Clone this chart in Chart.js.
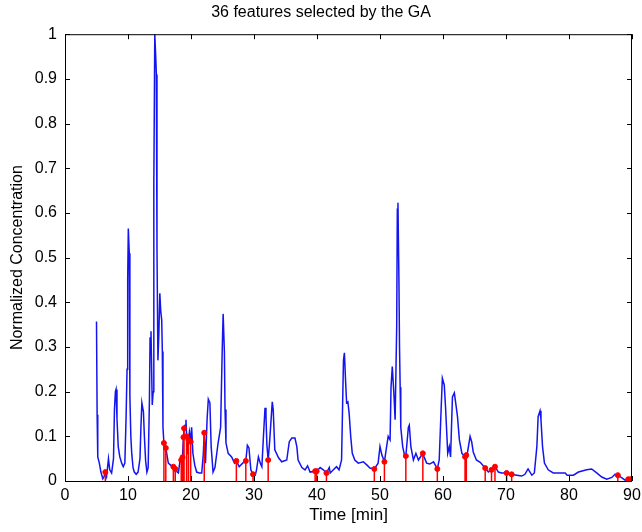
<!DOCTYPE html>
<html>
<head>
<meta charset="utf-8">
<script src="https://cdn.jsdelivr.net/npm/chart.js@4.4.1/dist/chart.umd.min.js"></script>
<style>
  body { margin: 0; background: #fff; }
  canvas { display: block; }
</style>
</head>
<body>
<canvas id="ga-chart" width="642" height="532"></canvas>
<script>
// chromatogram trace (time in min, normalized concentration)
const signalTimes = [
    5.0, 5.1, 5.2, 5.45, 5.7, 6.0, 6.2, 6.4, 6.6, 6.9, 7.1, 7.4, 7.7, 7.85, 8.0, 8.1, 8.25, 8.45, 8.7, 9.0,
    9.25, 9.5, 9.7, 9.85, 9.95, 10.05, 10.2, 10.3, 10.45, 10.6, 10.8, 11.0, 11.3, 11.6, 11.9, 12.05, 12.2, 12.45, 12.6, 12.8,
    13.0, 13.2, 13.4, 13.5, 13.65, 13.85, 14.0, 14.1, 14.25, 14.4, 14.5, 14.6, 14.75, 14.9, 15.05, 15.2, 15.35, 15.45, 15.55, 15.7,
    15.85, 16.0, 16.4, 16.8, 17.2, 17.5, 17.8, 18.0, 18.25, 18.45, 18.65, 18.8, 18.9, 19.05, 19.2, 19.3, 19.45, 19.6, 19.75, 19.95,
    20.1, 20.3, 20.6, 20.9, 21.3, 21.7, 21.95, 22.1, 22.3, 22.55, 22.75, 23.0, 23.2, 23.5, 23.8, 24.3, 24.7, 24.95, 25.1, 25.3,
    25.4, 25.55, 25.9, 26.45, 26.9, 27.2, 27.65, 28.2, 28.7, 28.95, 29.2, 29.5, 29.85, 30.2, 30.4, 30.7, 31.0, 31.25, 31.5, 31.75,
    31.9, 32.05, 32.25, 32.5, 32.9, 33.05, 33.3, 33.9, 34.4, 35.2, 35.6, 36.0, 36.5, 36.8, 37.0, 37.6, 38.1, 38.5, 38.9, 39.7,
    39.95, 40.5, 41.0, 41.5, 41.95, 42.1, 42.6, 43.1, 43.5, 43.9, 44.2, 44.35, 44.55, 44.7, 44.9, 45.1, 45.35, 45.6, 46.0, 46.55,
    47.35, 47.9, 48.4, 49.1, 49.7, 50.0, 50.3, 50.7, 51.05, 51.3, 51.6, 51.75, 51.95, 52.2, 52.4, 52.65, 52.75, 52.85, 53.0, 53.1,
    53.2, 53.3, 53.6, 53.95, 54.1, 54.5, 54.65, 54.9, 55.3, 55.7, 56.1, 56.8, 57.0, 57.4, 57.9, 58.5, 59.1, 59.4, 59.7, 59.9,
    60.2, 60.4, 60.75, 61.0, 61.2, 61.5, 61.8, 62.1, 62.3, 62.6, 63.0, 63.5, 63.7, 63.9, 64.3, 64.55, 64.8, 65.3, 65.9, 66.7,
    67.2, 67.7, 68.25, 68.8, 69.3, 70.1, 70.9, 71.7, 72.5, 73.0, 73.5, 74.1, 74.5, 74.9, 75.1, 75.4, 75.55, 75.8, 76.1, 76.7,
    77.5, 78.6, 79.4, 79.7, 80.7, 81.5, 82.8, 83.6, 84.4, 85.2, 86.0, 86.8, 87.3, 87.75, 88.4, 88.9, 89.4, 89.8, 90.0
];
const signalValues = [
    0.357, 0.148, 0.054, 0.04, 0.02, 0.005, 0.01, 0.02, 0.01, 0.05, 0.025, 0.018, 0.05, 0.16, 0.2, 0.205, 0.14, 0.077, 0.054, 0.04,
    0.032, 0.04, 0.145, 0.25, 0.45, 0.565, 0.51, 0.19, 0.1, 0.06, 0.03, 0.02, 0.015, 0.02, 0.05, 0.12, 0.175, 0.155, 0.1, 0.045,
    0.02, 0.03, 0.18, 0.32, 0.335, 0.17, 0.2, 0.66, 1.0, 0.95, 0.91, 0.52, 0.27, 0.33, 0.42, 0.38, 0.36, 0.29, 0.12, 0.085,
    0.08, 0.074, 0.04, 0.035, 0.032, 0.027, 0.02, 0.018, 0.045, 0.047, 0.053, 0.098, 0.118, 0.125, 0.137, 0.1, 0.06, 0.092, 0.11, 0.088,
    0.12, 0.062, 0.035, 0.02, 0.018, 0.018, 0.06, 0.108, 0.04, 0.137, 0.183, 0.175, 0.077, 0.02, 0.03, 0.085, 0.12, 0.29, 0.374, 0.29,
    0.16, 0.085, 0.062, 0.054, 0.04, 0.045, 0.032, 0.04, 0.045, 0.08, 0.074, 0.025, 0.015, 0.013, 0.025, 0.054, 0.04, 0.032, 0.1, 0.164,
    0.144, 0.08, 0.047, 0.092, 0.177, 0.16, 0.07, 0.052, 0.043, 0.047, 0.088, 0.096, 0.096, 0.077, 0.047, 0.03, 0.025, 0.034, 0.02, 0.022,
    0.022, 0.03, 0.025, 0.018, 0.03, 0.018, 0.025, 0.032, 0.025, 0.047, 0.27, 0.287, 0.22, 0.175, 0.177, 0.152, 0.1, 0.062, 0.047, 0.04,
    0.043, 0.036, 0.029, 0.027, 0.04, 0.077, 0.058, 0.043, 0.077, 0.1, 0.092, 0.21, 0.256, 0.197, 0.137, 0.345, 0.608, 0.623, 0.455, 0.3,
    0.21, 0.12, 0.077, 0.054, 0.056, 0.12, 0.125, 0.077, 0.047, 0.062, 0.047, 0.062, 0.054, 0.04, 0.038, 0.043, 0.027, 0.047, 0.16, 0.23,
    0.215, 0.166, 0.062, 0.077, 0.054, 0.188, 0.197, 0.166, 0.144, 0.092, 0.062, 0.054, 0.058, 0.065, 0.1, 0.088, 0.065, 0.047, 0.042, 0.029,
    0.02, 0.025, 0.032, 0.02, 0.018, 0.018, 0.015, 0.013, 0.011, 0.015, 0.027, 0.013, 0.018, 0.077, 0.144, 0.157, 0.137, 0.077, 0.04, 0.025,
    0.018, 0.018, 0.018, 0.013, 0.013, 0.02, 0.025, 0.027, 0.018, 0.009, 0.004, 0.008, 0.015, 0.013, 0.007, 0.002, 0.004, 0.004, 0.003
];

// the 36 selected features (stems)
const featureTimes = [
    6.4, 15.7, 16.0, 17.2, 17.5, 18.45, 18.65, 18.8, 18.9, 19.3, 19.6, 19.95,
    22.1, 27.2, 28.7, 29.85, 32.25, 39.7, 39.95, 41.5, 49.1, 50.7, 54.1, 56.8,
    59.1, 63.5, 63.7, 66.7, 67.7, 68.25, 70.1, 70.9, 87.75, 89.4, 89.8, 90.0
];
const featureValues = [
    0.02, 0.085, 0.074, 0.032, 0.027, 0.047, 0.053, 0.098, 0.118, 0.1, 0.092, 0.088,
    0.108, 0.045, 0.045, 0.015, 0.047, 0.022, 0.022, 0.018, 0.027, 0.043, 0.056, 0.062,
    0.027, 0.054, 0.058, 0.029, 0.025, 0.032, 0.018, 0.015, 0.013, 0.004, 0.004, 0.003
];

const xTickValues = [0, 10, 20, 30, 40, 50, 60, 70, 80, 90];
const yTickLabels = ['0', '0.1', '0.2', '0.3', '0.4', '0.5', '0.6', '0.7', '0.8', '0.9', '1'];

const FONT = '"Liberation Sans", Arial, sans-serif';

// matlab style box with inward ticks
const boxPlugin = {
    id: 'matlabBox',
    afterDraw(chart) {
        const { ctx, chartArea: a, scales } = chart;
        const len = 5;
        ctx.save();
        ctx.strokeStyle = '#000';
        ctx.lineWidth = 1;
        ctx.strokeRect(a.left + 0.5, a.top + 0.5, a.right - a.left - 1, a.bottom - a.top);
        ctx.beginPath();
        scales.x.ticks.forEach(t => {
            const px = Math.round(scales.x.getPixelForValue(t.value)) + 0.5;
            ctx.moveTo(px, a.bottom);
            ctx.lineTo(px, a.bottom - len);
            ctx.moveTo(px, a.top);
            ctx.lineTo(px, a.top + len);
        });
        scales.y.ticks.forEach(t => {
            const py = Math.round(scales.y.getPixelForValue(t.value)) + 0.5;
            ctx.moveTo(a.left, py);
            ctx.lineTo(a.left + len, py);
            ctx.moveTo(a.right, py);
            ctx.lineTo(a.right - len, py);
        });
        ctx.stroke();
        ctx.restore();
    }
};

Chart.defaults.color = '#000';
Chart.defaults.font.family = FONT;

function buildSignal() {
    return signalTimes.map((t, i) => ({ x: t, y: signalValues[i] }));
}

function buildStems() {
    return featureTimes.flatMap((t, i) => [
        { x: t, y: 0 },
        { x: t, y: featureValues[i] },
        { x: t, y: null }
    ]);
}

function buildMarkers() {
    return featureTimes.map((t, i) => ({ x: t, y: featureValues[i] }));
}

const ctx = document.getElementById('ga-chart').getContext('2d');

new Chart(ctx, {
    type: 'scatter',
    data: {
        datasets: [{
            label: 'signal',
            data: buildSignal(),
            showLine: true,
            borderColor: 'rgb(20, 20, 240)',
            borderWidth: 1.5,
            pointRadius: 0,
            tension: 0,
            order: 3
        }, {
            label: 'stems',
            data: buildStems(),
            showLine: true,
            spanGaps: false,
            borderColor: '#ff0000',
            borderWidth: 1.5,
            pointRadius: 0,
            order: 2
        }, {
            label: 'features',
            data: buildMarkers(),
            showLine: false,
            pointRadius: 2.5,
            pointBackgroundColor: '#ff0000',
            pointBorderColor: '#ff0000',
            order: 1
        }]
    },
    options: {
        responsive: false,
        animation: false,
        layout: {
            padding: { left: 0, right: 0, top: 0, bottom: 0 }
        },
        plugins: {
            legend: { display: false },
            tooltip: { enabled: false },
            title: {
                display: true,
                text: '36 features selected by the GA',
                font: { size: 16, weight: 'normal' },
                padding: { top: 3, bottom: 12 }
            }
        },
        scales: {
            x: {
                type: 'linear',
                min: 0,
                max: 90,
                grid: { display: false, drawTicks: false },
                border: { display: false },
                afterBuildTicks: scale => {
                    scale.ticks = xTickValues.map(v => ({ value: v }));
                },
                ticks: {
                    padding: 5,
                    maxRotation: 0,
                    font: { size: 16 }
                },
                title: {
                    display: true,
                    text: 'Time [min]',
                    font: { size: 17 },
                    padding: { top: 0, bottom: 6 }
                },
                afterFit: scale => {
                    scale.height = 51;
                    scale.paddingRight = 10;
                }
            },
            y: {
                min: 0,
                max: 1,
                grid: { display: false, drawTicks: false },
                border: { display: false },
                ticks: {
                    stepSize: 0.1,
                    padding: 8,
                    font: { size: 16 },
                    callback: (value, index) => yTickLabels[index]
                },
                title: {
                    display: true,
                    text: 'Normalized Concentration',
                    font: { size: 16 },
                    padding: { top: 8, bottom: 0 }
                },
                afterFit: scale => { scale.width = 65; }
            }
        }
    },
    plugins: [boxPlugin]
});
</script>
</body>
</html>
